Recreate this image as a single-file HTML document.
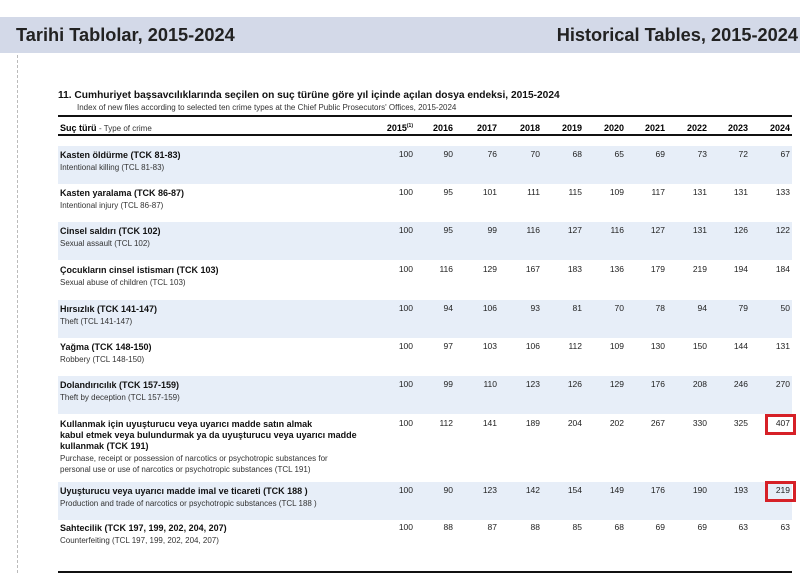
<!DOCTYPE html>
<html><head><meta charset="utf-8"><style>
body{margin:0;width:800px;height:573px;overflow:hidden;background:#fff;font-family:"Liberation Sans",Arial,sans-serif;position:relative}
.abs{position:absolute;white-space:nowrap}
.band{position:absolute;left:58px;width:734px;background:#e7eef8}
.tr{font-size:9px;font-weight:bold;color:#111;line-height:11px}
.en{font-size:8px;color:#333;line-height:11px}
.num{font-size:8.5px;color:#222;text-align:right;width:36px}
.yr{font-size:9px;font-weight:bold;text-align:right;width:40px}
</style></head><body>
<div class="abs" style="left:0;top:17px;width:800px;height:36px;background:#d3d9e8"></div>
<div class="abs" style="left:16px;top:25px;font-size:18.2px;font-weight:bold;color:#222">Tarihi Tablolar, 2015-2024</div>
<div class="abs" style="right:2px;top:25px;font-size:18.2px;font-weight:bold;color:#222">Historical Tables, 2015-2024</div>
<div class="abs" style="left:17px;top:55px;height:518px;border-left:1px dashed #bbb"></div>
<div class="abs" style="left:58px;top:90px;font-size:10.2px;font-weight:bold;color:#111">11. Cumhuriyet başsavcılıklarında seçilen on suç türüne göre yıl içinde açılan dosya endeksi, 2015-2024</div>
<div class="abs" style="left:77px;top:103px;font-size:8px;color:#333">Index of new files according to selected ten crime types at the Chief Public Prosecutors' Offices, 2015-2024</div>
<div class="abs" style="left:58px;top:115px;width:734px;height:2px;background:#111"></div>
<div class="abs" style="left:60px;top:123px;font-size:9px"><b>Suç türü</b> <span style="font-size:8px;color:#333">- Type of crime</span></div>
<div class="abs" style="left:58px;top:134px;width:734px;height:1.5px;background:#111"></div>
<div class="abs" style="left:58px;top:571px;width:734px;height:2px;background:#111"></div>
<div id="t"></div>
<script>
const years=["2015","2016","2017","2018","2019","2020","2021","2022","2023","2024"];
const namesTr=["Kasten öldürme (TCK 81-83)","Kasten yaralama (TCK 86-87)","Cinsel saldırı (TCK 102)","Çocukların cinsel istismarı (TCK 103)","Hırsızlık (TCK 141-147)","Yağma (TCK 148-150)","Dolandırıcılık (TCK 157-159)","Kullanmak için uyuşturucu veya uyarıcı madde satın almak<br>kabul etmek veya bulundurmak ya da uyuşturucu veya uyarıcı madde<br>kullanmak (TCK 191)","Uyuşturucu veya uyarıcı madde imal ve ticareti (TCK 188 )","Sahtecilik (TCK 197, 199, 202, 204, 207)"];
const namesEn=["Intentional killing (TCL 81-83)","Intentional injury (TCL 86-87)","Sexual assault (TCL 102)","Sexual abuse of children (TCL 103)","Theft (TCL 141-147)","Robbery (TCL 148-150)","Theft by deception (TCL 157-159)","Purchase, receipt or possession of narcotics or psychotropic substances for<br>personal use or use of narcotics or psychotropic substances (TCL 191)","Production and trade of narcotics or psychotropic substances (TCL 188 )","Counterfeiting (TCL 197, 199, 202, 204, 207)"];
const v0=[100,90,76,70,68,65,69,73,72,67];
const v1=[100,95,101,111,115,109,117,131,131,133];
const v2=[100,95,99,116,127,116,127,131,126,122];
const v3=[100,116,129,167,183,136,179,219,194,184];
const v4=[100,94,106,93,81,70,78,94,79,50];
const v5=[100,97,103,106,112,109,130,150,144,131];
const v6=[100,99,110,123,126,129,176,208,246,270];
const v7=[100,112,141,189,204,202,267,330,325,407];
const v8=[100,90,123,142,154,149,176,190,193,219];
const v9=[100,88,87,88,85,68,69,69,63,63];
const values=[v0,v1,v2,v3,v4,v5,v6,v7,v8,v9];
const highlighted=[7,8];
const colRight=[413,453,497,540,582,624,665,707,748,790];
const rowTop=[150,188,226,265,304,342,380,419,486,523];
const bandH=[38,38,38,38,38,38,38,66,38,38];
const t=document.getElementById('t');
function mk(cls,css,html){const d=document.createElement('div');d.className=cls;d.style.cssText=css;d.innerHTML=html;t.appendChild(d);return d;}
years.forEach((y,i)=>{
 const d=mk('abs yr',`left:${colRight[i]-40}px;top:123px`,y==="2015"?'2015<sup style="font-size:5px">(1)</sup>':y);
 
 
});
values.forEach((row,r)=>{
 const top=rowTop[r];
 if(r%2===0){const b=mk('band',`top:${top-4}px;height:${bandH[r]}px`,'');
  
  }
 const a=mk('abs tr',`left:60px;top:${top}px`,namesTr[r]);
 
 
 const nl=(namesTr[r].match(/<br>/g)||[]).length+1;
 const e=mk('abs en',`left:60px;top:${top+nl*11+1}px`,namesEn[r]);
 
 
 row.forEach((v,c)=>{
  const n=mk('abs num',`left:${colRight[c]-36}px;top:${top-1}px`,String(v));
  
  
 });
 if(highlighted.includes(r)){
  const h=mk('abs',`left:765px;top:${top-5}px;width:25px;height:15px;border:3px solid #d62027`,'');
  
  
 }
});
</script>
</body></html>
